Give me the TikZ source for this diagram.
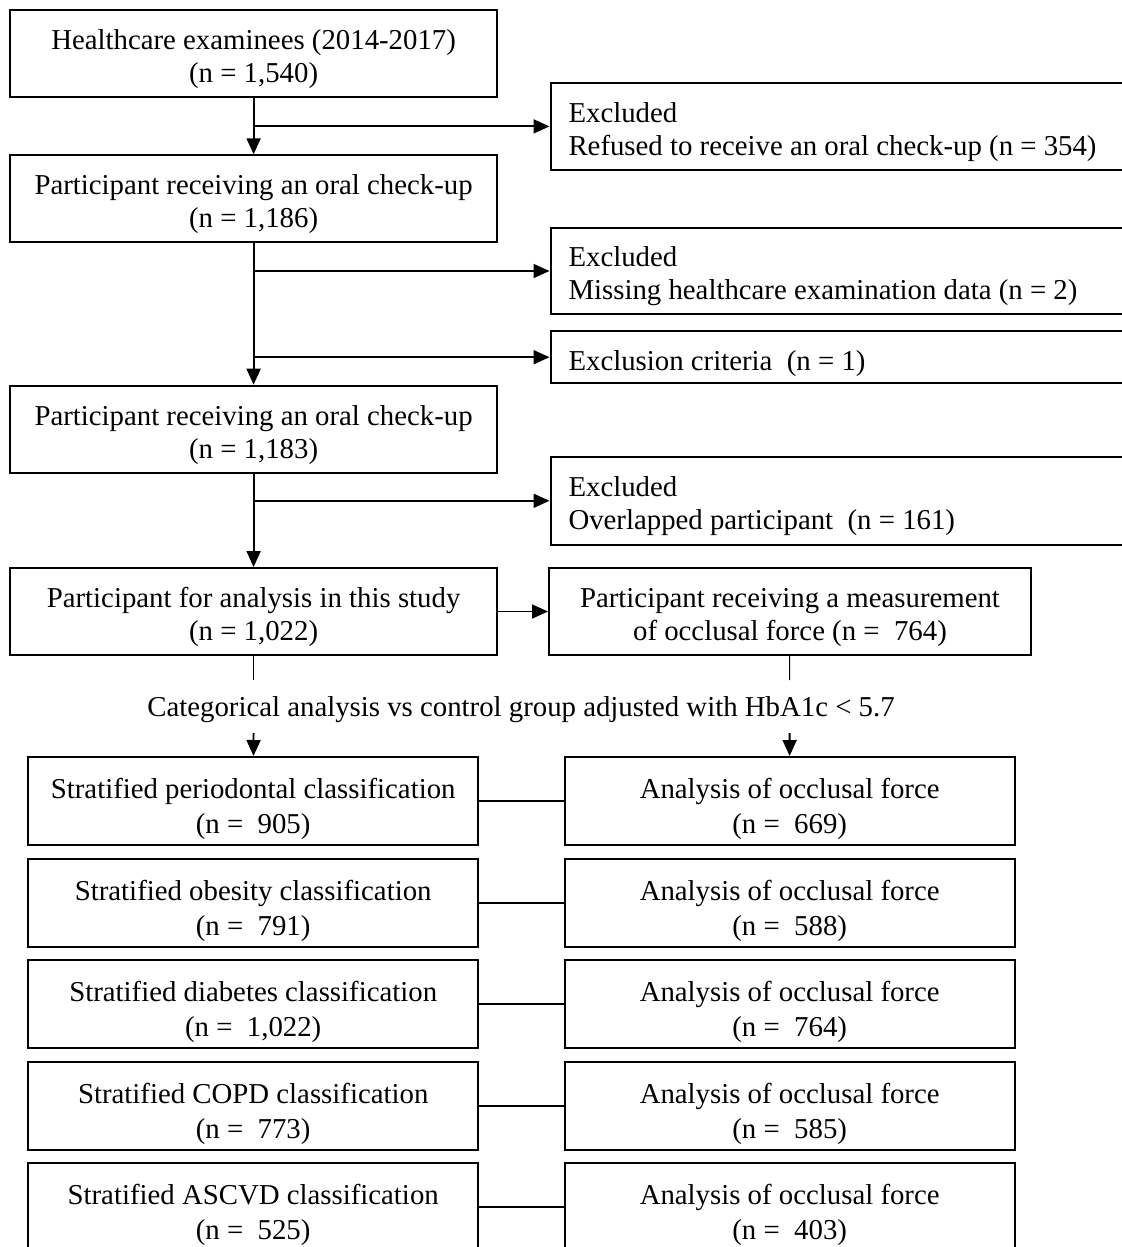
\documentclass[tikz,border=0pt]{standalone}
\usepackage{fontspec}
\setmainfont{Liberation Serif}
\usetikzlibrary{arrows.meta}

\begin{document}
\begin{tikzpicture}[x=0.5pt,y=-0.5pt,->,>={Triangle[length=8pt,width=7pt]},line width=0.9pt,
    font=\fontsize{14.4}{16.5}\selectfont,
    mainbox/.style={draw,line width=1pt,align=flush center,text width=243.75pt,minimum height=43.5pt,inner sep=0pt,text height=15.5pt},
    exclbox/.style={draw,line width=1pt,anchor=west,align=flush left,text width=282pt,inner xsep=9pt,inner ysep=0pt,text height=15.5pt},
    rowbox/.style={draw,line width=1pt,align=flush center,text width=225pt,minimum height=44pt,inner sep=0pt,
      font=\fontsize{14.4}{17.5}\selectfont,text height=18.1pt}]
    \useasboundingbox (0,0) rectangle (1122,1247);
    \clip (0,0) rectangle (1122,1247);

    % main column
    \node[mainbox] (exam)  at (253.6,54)    {Healthcare examinees (2014-2017)\\(n = 1,540)};
    \node[mainbox] (oral1) at (253.6,198.8) {Participant receiving an oral check-up\\(n = 1,186)};
    \node[mainbox] (oral2) at (253.6,429.2) {Participant receiving an oral check-up\\(n = 1,183)};
    \node[mainbox] (study) at (253.6,611.5) {Participant for analysis in this study\\(n = 1,022)};
    \node[mainbox,text width=241pt] (occl) at (790,611.5) {Participant receiving a measurement\\of occlusal force (n = ~764)};

    % excluded
    \node[exclbox,minimum height=43.65pt] (ex1) at (549.5,126.4) {Excluded\\Refused to receive an oral check-up (n = 354)};
    \node[exclbox,minimum height=43.3pt]  (ex2) at (549.5,271)   {Excluded\\Missing healthcare examination data (n = 2)};
    \node[exclbox,minimum height=26.15pt,text height=16.1pt] (ex3) at (549.5,357.2) {Exclusion criteria~ (n = 1)};
    \node[exclbox,minimum height=44.15pt] (ex4) at (549.5,500.8) {Excluded\\Overlapped participant~ (n = 161)};

    \node (cat) at (521,710) {Categorical analysis vs control group adjusted with HbA1c < 5.7};

    % stratified rows
    \node[rowbox] (perio)  at (253.2,801)    {Stratified periodontal classification\\(n = ~905)};
    \node[rowbox] (perioF) at (789.7,801)    {Analysis of occlusal force\\(n = ~669)};
    \node[rowbox] (obes)   at (253.2,902.5)  {Stratified obesity classification\\(n = ~791)};
    \node[rowbox] (obesF)  at (789.7,902.5)  {Analysis of occlusal force\\(n = ~588)};
    \node[rowbox] (diab)   at (253.2,1004)   {Stratified diabetes classification\\(n = ~1,022)};
    \node[rowbox] (diabF)  at (789.7,1004)   {Analysis of occlusal force\\(n = ~764)};
    \node[rowbox] (copd)   at (253.2,1105.5) {Stratified COPD classification\\(n = ~773)};
    \node[rowbox] (copdF)  at (789.7,1105.5) {Analysis of occlusal force\\(n = ~585)};
    \node[rowbox] (ascvd)  at (253.2,1207)   {Stratified ASCVD classification\\(n = ~525)};
    \node[rowbox] (ascvdF) at (789.7,1207)   {Analysis of occlusal force\\(n = ~403)};

    \coordinate (sL) at (253.6,680);
    \coordinate (sR) at (789.6,680);
    \coordinate (aL) at (253.6,733);
    \coordinate (aR) at (789.6,733);

    \path (exam) edge (oral1);
    \path (oral1) edge (oral2);
    \path (oral2) edge (study);
    \path (exam.south |- ex1.west) edge (ex1.west);
    \path (oral1.south |- ex2.west) edge (ex2.west);
    \path (oral1.south |- ex3.west) edge (ex3.west);
    \path (oral2.south |- ex4.west) edge (ex4.west);
    \path (study) edge (occl);

    \path (study) edge[-,line width=0.5pt] (sL);
    \path (occl) edge[-,line width=0.5pt] (sR);
    \path (aL) edge (perio);
    \path (aR) edge (perioF);

    \path (perio) edge[-,line width=1pt] (perioF);
    \path (obes)  edge[-,line width=1pt] (obesF);
    \path (diab)  edge[-,line width=1pt] (diabF);
    \path (copd)  edge[-,line width=1pt] (copdF);
    \path (ascvd) edge[-,line width=1pt] (ascvdF);
\end{tikzpicture}
\end{document}
